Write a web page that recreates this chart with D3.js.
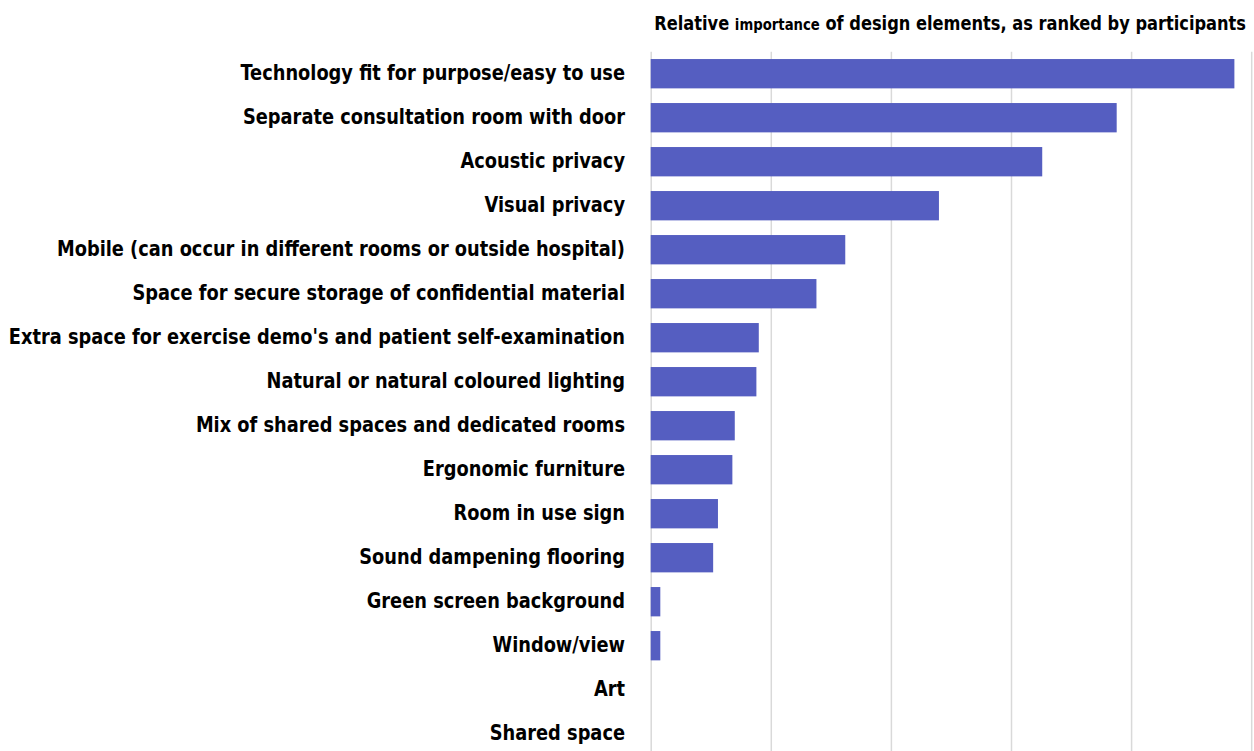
<!DOCTYPE html>
<html>
<head>
<meta charset="utf-8">
<script src="https://cdn.jsdelivr.net/npm/d3@7/dist/d3.min.js"></script>
<style>
  html, body { margin: 0; padding: 0; background: #ffffff; }
  svg { display: block; }
  .lbl { font-family: "Liberation Sans Narrow", "DejaVu Sans Condensed", "Roboto", sans-serif; font-weight: bold; }
</style>
</head>
<body>
<div id="chart"></div>
<script>
// Design elements, in ranked order
const categories = [
  "Technology fit for purpose/easy to use",
  "Separate consultation room with door",
  "Acoustic privacy",
  "Visual privacy",
  "Mobile (can occur in different rooms or outside hospital)",
  "Space for secure storage of confidential material",
  "Extra space for exercise demo's and patient self-examination",
  "Natural or natural coloured lighting",
  "Mix of shared spaces and dedicated rooms",
  "Ergonomic furniture",
  "Room in use sign",
  "Sound dampening flooring",
  "Green screen background",
  "Window/view",
  "Art",
  "Shared space"
];

// Ranking score for each element
const scores = [243, 194, 163, 120, 81, 69, 45, 44, 35, 34, 28, 26, 4, 4, 0, 0];

// Gridline positions along the value axis
const gridTicks = [0, 50, 100, 150, 200, 250];

const W = 1254, H = 751;
const margin = { top: 51.7, left: 650.7, right: 2.8 };
const plotBottom = 755.7;
const narrow = 0.9; // horizontal squeeze for a condensed look

const svg = d3.select("#chart").append("svg")
  .attr("width", W).attr("height", H);

const x = d3.scaleLinear()
  .domain([0, 250])
  .range([margin.left, W - margin.right]);

const y = d3.scaleBand()
  .domain(categories)
  .range([margin.top, plotBottom])
  .paddingInner(1 / 3)
  .paddingOuter(1 / 6);

// Vertical gridlines
const grid = d3.axisBottom(x)
  .tickValues(gridTicks)
  .tickSize(-(plotBottom - margin.top))
  .tickFormat("");
svg.append("g")
  .attr("transform", `translate(0,${plotBottom})`)
  .call(grid)
  .call(g => g.select(".domain").remove())
  .call(g => g.selectAll(".tick line")
    .attr("stroke", "#d9d9d9")
    .attr("stroke-width", 1.5));

// Bars
svg.append("g").selectAll("rect")
  .data(categories)
  .join("rect")
  .attr("x", x(0))
  .attr("y", d => y(d))
  .attr("width", (d, i) => x(scores[i]) - x(0))
  .attr("height", y.bandwidth())
  .attr("fill", "#555ec1");

// Category labels
const yAxis = d3.axisLeft(y).tickSize(0).tickPadding(0);
svg.append("g")
  .attr("transform", `translate(625,0)`)
  .call(yAxis)
  .call(g => g.select(".domain").remove())
  .call(g => g.selectAll(".tick text")
    .attr("class", "lbl")
    .attr("fill", "#000")
    .attr("font-size", 22)
    .attr("dy", "0.3em")
    .attr("transform", `scale(${narrow},1)`));

// Title
const title = svg.append("text")
  .attr("class", "lbl")
  .attr("text-anchor", "end")
  .attr("fill", "#000")
  .attr("font-size", 19)
  .attr("transform", `translate(1246,30) scale(0.95,1)`);
title.append("tspan").text("Relative ");
title.append("tspan").attr("font-size", 15.5).text("importance");
title.append("tspan").text(" of design elements, as ranked by participants");
</script>
</body>
</html>
